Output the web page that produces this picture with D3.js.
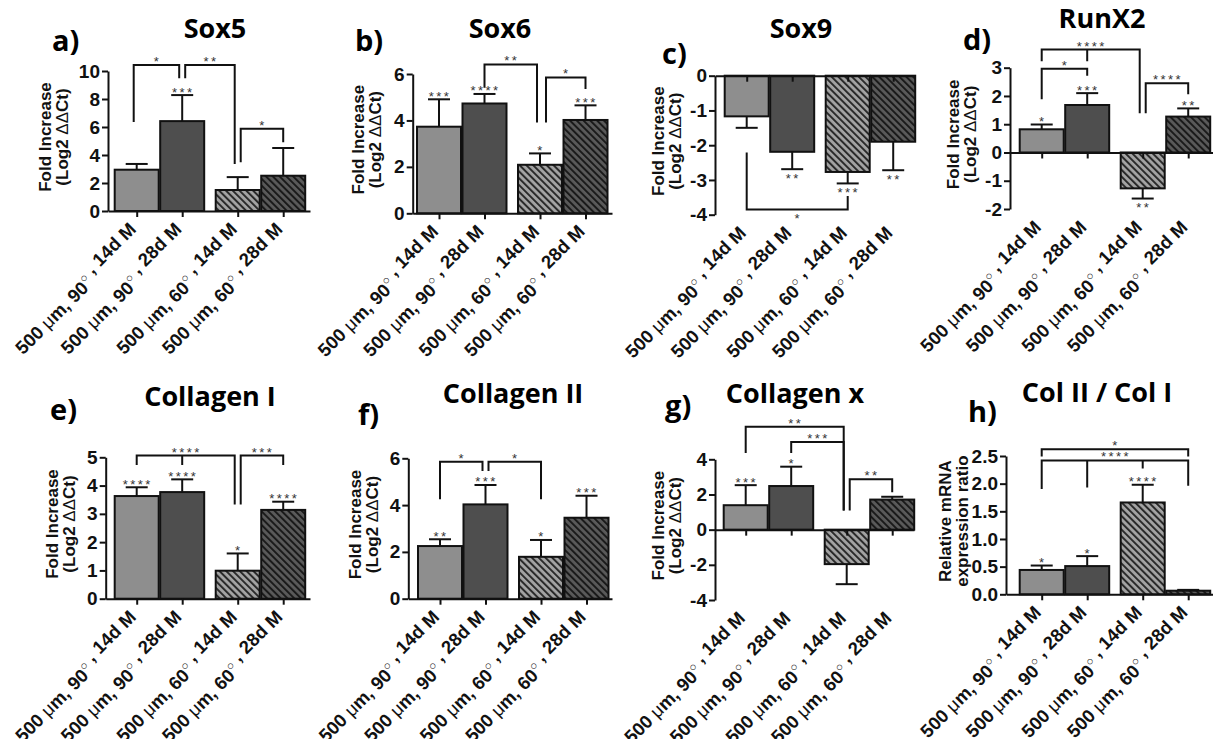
<!DOCTYPE html>
<html>
<head>
<meta charset="utf-8">
<script src="https://cdn.jsdelivr.net/npm/d3@7"></script>
<style>
  body { margin: 0; background: #fff; }
  svg text { font-family: "Liberation Sans", Arial, sans-serif; }
  svg text.title { font-family: "Open Sans", "Noto Sans", sans-serif; }
</style>
</head>
<body>
<script>
// Groups on the x axis (same four for every panel)
const categories = ["500 μm, 90° , 14d M", "500 μm, 90° , 28d M", "500 μm, 60° , 14d M", "500 μm, 60° , 28d M"];

// Each bracket: label, level of the bar, legs as [group, leg end value, side]
const sox5Mean = [2.95, 6.42, 1.5, 2.52];
const sox5Err = [0.41, 1.86, 0.92, 1.98];
const sox5Stars = ["", "***", "", ""];
const sox5Brackets = [
  { label: "*", y: 10.43, legs: [[0, 6.42, -1], [1, 9.55, -1]] },
  { label: "**", y: 10.43, legs: [[1, 9.55, 1], [2, 3.43, -1]] },
  { label: "*", y: 5.88, legs: [[2, 3.55, 1], [3, 4.99, 0]] }
];

const sox6Mean = [3.73, 4.73, 2.09, 4.02];
const sox6Err = [1.18, 0.41, 0.49, 0.63];
const sox6Stars = ["***", "****", "*", "***"];
const sox6Brackets = [
  { label: "**", y: 6.41, legs: [[1, 5.45, 0], [2, 3.95, -1]] },
  { label: "*", y: 5.85, legs: [[2, 3.95, 2], [3, 5.4, 0]] }
];

const sox9Mean = [-1.17, -2.19, -2.77, -1.9];
const sox9Err = [0.33, 0.5, 0.33, 0.82];
const sox9Stars = ["", "**", "***", "**"];
const sox9Brackets = [
  { label: "*", y: -3.85, legs: [[0, -2.24, 0], [2, -3.49, 0]] }
];

const runx2Mean = [0.82, 1.68, -1.27, 1.27];
const runx2Err = [0.17, 0.42, 0.36, 0.29];
const runx2Stars = ["*", "***", "**", "**"];
const runx2Brackets = [
  { label: "*", y: 2.96, legs: [[0, 1.92, 0], [1, 2.75, 0]] },
  { label: "****", y: 3.64, legs: [[0, 3.26, 0], [1, 3.26, 0], [2, 1.42, -1]] },
  { label: "****", y: 2.45, legs: [[2, 1.42, 1], [3, 2.1, 0]] }
];

const col1Mean = [3.63, 3.77, 0.99, 3.14];
const col1Err = [0.31, 0.45, 0.61, 0.29];
const col1Stars = ["****", "****", "*", "****"];
const col1Brackets = [
  { label: "****", y: 5.06, legs: [[0, 4.76, 0], [1, 4.76, 0], [2, 3.37, -1]] },
  { label: "***", y: 5.06, legs: [[2, 3.37, 1], [3, 4.76, 0]] }
];

const col2Mean = [2.25, 4.03, 1.79, 3.46];
const col2Err = [0.29, 0.83, 0.72, 0.94];
const col2Stars = ["**", "***", "*", "***"];
const col2Brackets = [
  { label: "*", y: 5.85, legs: [[0, 4.29, 0], [1, 5.5, -1]] },
  { label: "*", y: 5.85, legs: [[1, 5.5, 1], [2, 4.29, 0]] }
];

const colXMean = [1.39, 2.48, -1.96, 1.71];
const colXErr = [1.14, 1.1, 1.14, 0.16];
const colXStars = ["***", "*", "", ""];
const colXBrackets = [
  { label: "**", y: 5.85, legs: [[0, 4.42, 0], [2, 1.14, -1]] },
  { label: "***", y: 4.99, legs: [[1, 4.42, 0], [2, 1.14, -1]] },
  { label: "**", y: 2.86, legs: [[2, 1.14, 1], [3, 2.19, 0]] }
];

const ratioMean = [0.44, 0.51, 1.66, 0.065];
const ratioErr = [0.08, 0.18, 0.32, 0.015];
const ratioStars = ["*", "*", "****", ""];
const ratioBrackets = [
  { label: "*", y: 2.62, legs: [[0, 2.51, 0], [3, 2.51, 0]] },
  { label: "****", y: 2.42, legs: [[0, 1.92, 0], [1, 1.95, 0], [2, 2.29, 0], [3, 1.98, 0]] }
];

const foldLabel = ["Fold Increase", "(Log2 ΔΔCt)"];
const ratioLabel = ["Relative mRNA", "expression ratio"];
const intFmt = (d) => String(d);
const decFmt = (d) => d.toFixed(1);

// Panel layout (pixel placement of every plot)
const panels = [
  { letter: "a)", title: "Sox5", mean: sox5Mean, err: sox5Err, stars: sox5Stars, brackets: sox5Brackets,
    domain: [0, 10], ticks: [0, 2, 4, 6, 8, 10], fmt: intFmt, ylabel: foldLabel,
    ax: 108, top: 71, bottom: 211, c0: 136.7, xEnd: 310, tx: 215, ty: 38, lx: 52, ly: 51, yl: 57 },
  { letter: "b)", title: "Sox6", mean: sox6Mean, err: sox6Err, stars: sox6Stars, brackets: sox6Brackets,
    domain: [0, 6], ticks: [0, 2, 4, 6], fmt: intFmt, ylabel: foldLabel,
    ax: 412.7, top: 74, bottom: 213.3, c0: 439, xEnd: 612, tx: 500, ty: 38, lx: 355, ly: 51, yl: 49 },
  { letter: "c)", title: "Sox9", mean: sox9Mean, err: sox9Err, stars: sox9Stars, brackets: sox9Brackets,
    domain: [-4, 0], ticks: [-4, -3, -2, -1, 0], fmt: intFmt, ylabel: foldLabel,
    ax: 715, top: 75.7, bottom: 214.7, c0: 746.7, xEnd: 914, tx: 801, ty: 38, lx: 662, ly: 64, yl: 51 },
  { letter: "d)", title: "RunX2", mean: runx2Mean, err: runx2Err, stars: runx2Stars, brackets: runx2Brackets,
    domain: [-2, 3], ticks: [-2, -1, 0, 1, 2, 3], fmt: intFmt, ylabel: foldLabel,
    ax: 1010, top: 67.7, bottom: 209, c0: 1041.7, xEnd: 1213, tx: 1102, ty: 28, lx: 963, ly: 50, yl: 51 },
  { letter: "e)", title: "Collagen I", mean: col1Mean, err: col1Err, stars: col1Stars, brackets: col1Brackets,
    domain: [0, 5], ticks: [0, 1, 2, 3, 4, 5], fmt: intFmt, ylabel: foldLabel,
    ax: 105.7, top: 457.3, bottom: 598.7, c0: 136.7, xEnd: 310, tx: 210, ty: 406, lx: 50, ly: 420, yl: 48 },
  { letter: "f)", title: "Collagen II", mean: col2Mean, err: col2Err, stars: col2Stars, brackets: col2Brackets,
    domain: [0, 6], ticks: [0, 2, 4, 6], fmt: intFmt, ylabel: foldLabel,
    ax: 408.3, top: 458.3, bottom: 598.7, c0: 440, xEnd: 612, tx: 513, ty: 403, lx: 358, ly: 425, yl: 47 },
  { letter: "g)", title: "Collagen x", mean: colXMean, err: colXErr, stars: colXStars, brackets: colXBrackets,
    domain: [-4, 4], ticks: [-4, -2, 0, 2, 4], fmt: intFmt, ylabel: foldLabel,
    ax: 715, top: 459.3, bottom: 600, c0: 745.7, xEnd: 914, tx: 795, ty: 403, lx: 665, ly: 416, yl: 51 },
  { letter: "h)", title: "Col II / Col I", mean: ratioMean, err: ratioErr, stars: ratioStars, brackets: ratioBrackets,
    domain: [0, 2.5], ticks: [0, 0.5, 1, 1.5, 2, 2.5], fmt: decFmt, ylabel: ratioLabel,
    ax: 1006, top: 456, bottom: 594.3, c0: 1041.7, xEnd: 1213, tx: 1097, ty: 402, lx: 968, ly: 422, yl: 55 }
];

const slots = [0, 1, 2.22, 3.22]; // second group sits a little apart
const step = 45.5;
const barW = 44;

const svg = d3.select("body").append("svg").attr("width", 1213).attr("height", 739);
const defs = svg.append("defs");

// diagonal hatching for the 60 degree groups
function hatch(id, bg, fg) {
  const p = defs.append("pattern").attr("id", id)
    .attr("patternUnits", "userSpaceOnUse")
    .attr("width", 4.8).attr("height", 4.8)
    .attr("patternTransform", "rotate(-45)");
  p.append("rect").attr("width", 4.8).attr("height", 4.8).attr("fill", bg);
  p.append("rect").attr("width", 2).attr("height", 4.8).attr("fill", fg);
}
hatch("hatchLight", "#a4a4a4", "#2a2a2a");
hatch("hatchDark", "#5a5a5a", "#1a1a1a");
const fills = ["#8e8e8e", "#4e4e4e", "url(#hatchLight)", "url(#hatchDark)"];

function catLabel(text, d) {
  // "μ" is set in a lighter weight and "°" as a raised ring like the original
  const parts = d.split(/([μ°])/);
  parts.forEach((s) => {
    if (!s) return;
    if (s === "μ") text.append("tspan").attr("font-weight", "normal").text("μ");
    else if (s === "°") {
      text.append("tspan").attr("font-weight", "normal").attr("font-size", 12).attr("dy", -8).text("○");
      text.append("tspan").attr("dy", 8).text("");
    } else text.append("tspan").text(s);
  });
}

panels.forEach((p) => {
  const g = svg.append("g");
  const y = d3.scaleLinear().domain(p.domain).range([p.bottom, p.top]);
  const x = d3.scaleLinear().domain([0, 1]).range([p.c0, p.c0 + step]);
  const pos = (i) => x(slots[i]);
  const y0 = y(0);

  // bars
  g.selectAll("rect.bar").data(p.mean).join("rect")
    .attr("class", "bar")
    .attr("x", (d, i) => pos(i) - barW / 2)
    .attr("width", barW)
    .attr("y", (d) => Math.min(y(d), y0))
    .attr("height", (d) => Math.abs(y(d) - y0))
    .attr("fill", (d, i) => fills[i])
    .attr("stroke", "#111")
    .attr("stroke-width", 2);

  // error bars, pointing away from zero
  const capVal = (d, i) => (d >= 0 ? d + p.err[i] : d - p.err[i]);
  const eb = g.selectAll("g.err").data(p.mean).join("g").attr("class", "err")
    .attr("stroke", "#111").attr("stroke-width", 2);
  eb.append("line")
    .attr("x1", (d, i) => pos(i)).attr("x2", (d, i) => pos(i))
    .attr("y1", (d) => y(d)).attr("y2", (d, i) => y(capVal(d, i)));
  eb.append("line")
    .attr("x1", (d, i) => pos(i) - 11).attr("x2", (d, i) => pos(i) + 11)
    .attr("y1", (d, i) => y(capVal(d, i))).attr("y2", (d, i) => y(capVal(d, i)));

  // y axis
  g.append("g")
    .attr("transform", `translate(${p.ax},0)`)
    .call(d3.axisLeft(y).tickValues(p.ticks).tickFormat(p.fmt).tickSize(6).tickSizeOuter(0).tickPadding(2))
    .call((a) => {
      a.select(".domain").attr("stroke", "#111").attr("stroke-width", 2);
      a.selectAll(".tick line").attr("stroke", "#111").attr("stroke-width", 2);
      a.selectAll(".tick text").attr("font-size", 19).attr("font-weight", "bold").attr("fill", "#111");
    });

  // x axis along zero
  const xa = x.copy().domain([x.invert(p.ax), x.invert(p.xEnd)]).range([p.ax, p.xEnd]);
  g.append("g")
    .attr("transform", `translate(0,${y0})`)
    .call(d3.axisBottom(xa).tickValues(slots).tickFormat("").tickSize(6).tickSizeOuter(0))
    .call((a) => {
      a.select(".domain").attr("stroke", "#111").attr("stroke-width", 2);
      a.selectAll(".tick line").attr("stroke", "#111").attr("stroke-width", 2);
    });

  // category labels, rotated under the plot
  g.selectAll("text.cat").data(categories).join("text")
    .attr("class", "cat")
    .attr("transform", (d, i) => `translate(${pos(i) + 6},${p.bottom + 25}) rotate(-45)`)
    .attr("text-anchor", "end")
    .attr("font-size", 18.5)
    .attr("font-weight", "bold")
    .attr("fill", "#111")
    .each(function (d) { catLabel(d3.select(this), d); });

  // y axis title
  const yt = g.append("text")
    .attr("transform", `translate(${p.ax - p.yl},${(p.top + p.bottom) / 2 - 4}) rotate(-90)`)
    .attr("text-anchor", "middle")
    .attr("font-size", 17)
    .attr("font-weight", "bold")
    .attr("fill", "#111");
  yt.append("tspan").attr("x", 0).text(p.ylabel[0]);
  const l2 = yt.append("tspan").attr("x", 0).attr("dy", 17);
  p.ylabel[1].split(/(ΔΔ)/).forEach((s) => {
    if (!s) return;
    l2.append("tspan").attr("font-weight", s === "ΔΔ" ? "normal" : "bold").text(s);
  });

  // significance stars on single bars
  g.selectAll("text.star").data(p.stars).join("text")
    .attr("class", "star")
    .attr("x", (d, i) => pos(i) + 1)
    .attr("y", (d, i) => {
      const m = p.mean[i];
      return y(capVal(m, i)) + (m >= 0 ? 1.5 : 13.5);
    })
    .attr("text-anchor", "middle")
    .attr("font-size", 13)
    .attr("letter-spacing", 2.4)
    .attr("fill", "#333")
    .text((d) => d);

  // comparison brackets
  p.brackets.forEach((b) => {
    const lx = b.legs.map((l) => pos(l[0]) + l[2] * 3);
    const ly = y(b.y);
    const x1 = d3.min(lx), x2 = d3.max(lx);
    const path = d3.path();
    path.moveTo(x1, ly);
    path.lineTo(x2, ly);
    b.legs.forEach((l, k) => {
      path.moveTo(lx[k], ly);
      path.lineTo(lx[k], y(l[1]));
    });
    g.append("path").attr("d", path.toString())
      .attr("fill", "none").attr("stroke", "#111").attr("stroke-width", 2)
      .attr("stroke-linecap", "square");
    const below = b.legs.every((l) => l[1] > b.y);
    g.append("text")
      .attr("x", (x1 + x2) / 2 + 1)
      .attr("y", below ? ly + 13.5 : ly + 1)
      .attr("text-anchor", "middle")
      .attr("font-size", 13)
      .attr("letter-spacing", 2.4)
      .attr("fill", "#333")
      .text(b.label);
  });

  // panel title and letter
  g.append("text").attr("class", "title")
    .attr("x", p.tx).attr("y", p.ty)
    .attr("text-anchor", "middle")
    .attr("font-size", 27).attr("font-weight", "bold").attr("fill", "#000")
    .text(p.title);
  g.append("text").attr("class", "title")
    .attr("x", p.lx).attr("y", p.ly)
    .attr("font-size", 29).attr("font-weight", "bold").attr("fill", "#000")
    .text(p.letter);
});
</script>
</body>
</html>
